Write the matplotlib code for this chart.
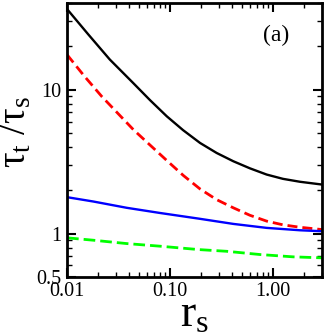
import matplotlib
matplotlib.use("Agg")
import matplotlib.pyplot as plt
from matplotlib.ticker import FixedLocator, FixedFormatter, LogLocator, NullFormatter

# ========== DATA ==========
rs_black = [0.01, 0.016, 0.026, 0.044, 0.064, 0.093, 0.134, 0.196, 0.284,
            0.412, 0.597, 0.869, 1.25, 1.83, 3.0]
tau_black = [36.3, 24.3, 16.2, 11.1, 8.45, 6.53, 5.23, 4.26, 3.63,
             3.18, 2.84, 2.57, 2.40, 2.29, 2.19]

rs_red = [0.01, 0.0146, 0.0217, 0.044, 0.064, 0.093, 0.135, 0.196, 0.284,
          0.412, 0.597, 0.869, 1.25, 1.83, 3.0]
tau_red = [17.5, 12.5, 8.98, 5.28, 4.12, 3.22, 2.53, 2.04, 1.72,
           1.51, 1.34, 1.22, 1.15, 1.106, 1.066]

rs_blue = [0.01, 0.018, 0.038, 0.080, 0.19, 0.412, 0.869, 1.83, 3.0]
tau_blue = [1.79, 1.67, 1.51, 1.39, 1.27, 1.167, 1.095, 1.054, 1.038]

rs_green = [0.01, 0.018, 0.038, 0.080, 0.19, 0.355, 0.748, 1.57, 3.0]
tau_green = [0.934, 0.899, 0.852, 0.817, 0.774, 0.753, 0.715, 0.689, 0.678]

x_ticks = [0.01, 0.1, 1.0]
x_labels = ["0.01", "0.10", "1.00"]
y_ticks = [0.5, 1, 10]
y_labels = ["0.5", "1", "10"]
# ====================================================

plt.rcParams["font.family"] = ["Liberation Serif", "DejaVu Serif"]
plt.rcParams["mathtext.fontset"] = "custom"
plt.rcParams["mathtext.rm"] = "Liberation Serif"
plt.rcParams["mathtext.it"] = "Liberation Serif:italic"

fig = plt.figure(figsize=(3.27, 3.32), dpi=100)
ax = fig.add_axes([0.205, 0.166, 0.78, 0.825])

ax.plot(rs_black, tau_black, color="black", lw=1.7)
ax.plot(rs_red, tau_red, color="#ff0000", lw=2.0, dashes=(3.6, 1.8))
ax.plot(rs_blue, tau_blue, color="#0000ff", lw=1.7)
ax.plot(rs_green, tau_green, color="#00ff00", lw=2.0, dashes=(4.2, 1.8))

ax.set_xscale("log")
ax.set_yscale("log")
ax.set_xlim(0.01, 3.0)
ax.set_ylim(0.5, 40)

ax.xaxis.set_major_locator(FixedLocator(x_ticks))
ax.xaxis.set_major_formatter(FixedFormatter(x_labels))
ax.xaxis.set_minor_locator(LogLocator(base=10, subs=range(2, 10), numticks=20))
ax.xaxis.set_minor_formatter(NullFormatter())
ax.yaxis.set_major_locator(FixedLocator(y_ticks))
ax.yaxis.set_major_formatter(FixedFormatter(y_labels))
ax.yaxis.set_minor_locator(LogLocator(base=10, subs=range(2, 10), numticks=20))
ax.yaxis.set_minor_formatter(NullFormatter())

ax.tick_params(which="both", direction="in", top=True, right=True, labelsize=14.5)
ax.tick_params(which="major", length=6.5, width=1.5, pad=4)
ax.tick_params(which="minor", length=3.6, width=1.0)
for sp in ax.spines.values():
    sp.set_linewidth(2.0)

ax.set_xlabel(r"$\mathrm{r_s}$", fontsize=33, labelpad=-5)
ax.set_ylabel(r"$\mathrm{\tau_t\ /\tau_s}$", fontsize=28)
ax.yaxis.set_label_coords(-0.128, 0.53)

ax.text(0.82, 0.88, "(a)", transform=ax.transAxes, fontsize=17,
        ha="center", va="center")

fig.savefig("out.png", dpi=100)
